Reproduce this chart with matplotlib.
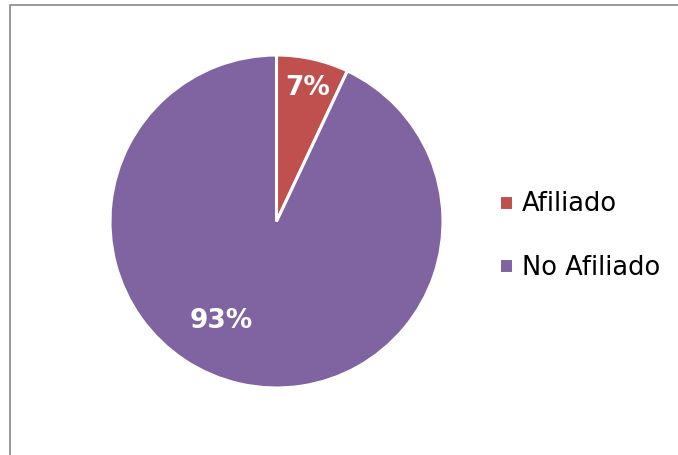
import matplotlib.pyplot as plt
from matplotlib.patches import Rectangle

# data
labels = ['Afiliado', 'No Afiliado']
values = [7, 93]
colors = ['#C0504D', '#8064A2']

fig = plt.figure(figsize=(6.78, 4.55), dpi=100)
fig.patch.set_facecolor('white')

# chart area border (only left/top visible in the original)
fig.patches.append(Rectangle((9.5 / 678, -0.2), 1.5, 1.2 - 4.5 / 455,
                             transform=fig.transFigure, fill=False,
                             edgecolor='#868686', linewidth=1.2))

ax = fig.add_axes([110 / 678, 67 / 455, 333 / 678, 333 / 455])
wedges, texts, autotexts = ax.pie(values, colors=colors, startangle=90, counterclock=False,
                                  autopct='%1.0f%%', pctdistance=0.75,
                                  wedgeprops=dict(edgecolor='white', linewidth=2.2),
                                  textprops=dict(color='white', fontsize=19, fontweight='bold'))
ax.set_xlim(-1, 1)
ax.set_ylim(-1, 1)

# label spots as Excel placed them
autotexts[0].set_position((0.19, 0.80))
autotexts[1].set_position((-0.33, -0.60))

fig.legend(wedges, labels, loc='center left', bbox_to_anchor=(499 / 678, 1 - 236 / 455),
           frameon=False, fontsize=18.5, handlelength=0.55, handleheight=0.55,
           handletextpad=0.35, labelspacing=1.45, borderpad=0, borderaxespad=0)

fig.savefig('out.png', dpi=100)
